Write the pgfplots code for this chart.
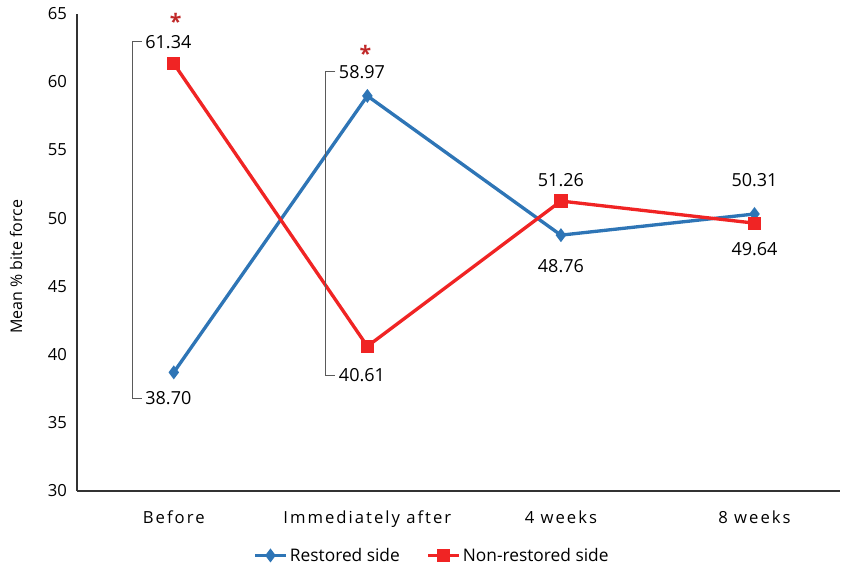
\documentclass[border=0pt]{standalone}
\usepackage{pgfplots}
\pgfplotsset{compat=1.18}
\usepackage{fontspec}
\setmainfont{Open Sans}
\definecolor{rblue}{RGB}{46,117,182}
\definecolor{nred}{RGB}{240,36,36}
\definecolor{astred}{RGB}{192,40,40}
\definecolor{leader}{RGB}{90,90,90}
\begin{document}
\begin{tikzpicture}[x=0.75pt,y=0.75pt]
\path (-77,-79) rectangle (766,491);
\begin{axis}[
  at={(0,0)}, anchor=south west,
  scale only axis,
  width=572pt, height=358pt,
  xmin=-0.5, xmax=3.44,
  ymin=30, ymax=65,
  ytick={30,35,...,65},
  xtick={0,1,2,3},
  xticklabels={Before,Immediately after,4 weeks,8 weeks},
  xticklabel style={font=\fontsize{12.5}{14}\selectfont\addfontfeatures{LetterSpace=12}, yshift=-11pt},
  yticklabel style={font=\fontsize{12.5}{14}\selectfont, xshift=-4pt},
  /pgf/number format/assume math mode=true,
  /pgf/number format/fixed,
  major tick length=0pt,
  axis x line*=bottom, axis y line*=left,
  axis line style={black!80, line width=0.8pt},
  ylabel={Mean \% bite force},
  every axis y label/.style={at={(axis description cs:-0.08,0.47)}, rotate=90, anchor=center},
  ylabel style={font=\fontsize{12}{14}\selectfont},
  legend style={draw=none, at={(0.466,-0.135)}, anchor=center, legend columns=2,
    font=\fontsize{13}{15}\selectfont, /tikz/every even column/.append style={column sep=18pt},
    /tikz/every odd column/.append style={column sep=0pt}},
  legend image code/.code={\draw[#1] (0cm,0cm) -- (0.8cm,0cm); \draw[#1, only marks] plot coordinates {(0.4cm,0cm)};},
  clip=false,
]
\addplot[rblue, line width=2.5pt, mark=diamond*, mark size=3.2pt, mark options={solid}]
  coordinates {(0,38.70) (1,58.97) (2,48.76) (3,50.31)};
\addlegendentry{Restored side}
\addplot[nred, line width=2.5pt, mark=square*, mark size=3.7pt]
  coordinates {(0,61.34) (1,40.61) (2,51.26) (3,49.64)};
\addlegendentry{Non-restored side}
% leader brackets
\draw[leader, line width=0.6pt] (axis cs:-0.165,62.95) -- (axis cs:-0.215,62.95) -- (axis cs:-0.215,36.82) -- (axis cs:-0.165,36.82);
\draw[leader, line width=0.6pt] (axis cs:0.835,60.74) -- (axis cs:0.785,60.74) -- (axis cs:0.785,38.51) -- (axis cs:0.835,38.51);
\begin{scope}[every node/.style={font=\fontsize{13.5}{15}\selectfont, inner sep=1pt}]
\node[anchor=west] at (axis cs:-0.155,62.95) {61.34};
\node[anchor=west] at (axis cs:-0.155,36.82) {38.70};
\node[anchor=west] at (axis cs:0.845,60.74) {58.97};
\node[anchor=west] at (axis cs:0.845,38.51) {40.61};
\node at (axis cs:2,52.82) {51.26};
\node at (axis cs:2,46.5) {48.76};
\node at (axis cs:3,52.82) {50.31};
\node at (axis cs:3,47.7) {49.64};
\end{scope}
\node[astred, inner sep=0pt, anchor=base, font=\fontsize{16}{16}\selectfont\bfseries] at (axis cs:0.01,63.85) {*};
\node[astred, inner sep=0pt, anchor=base, font=\fontsize{16}{16}\selectfont\bfseries] at (axis cs:0.99,61.5) {*};
\end{axis}
\end{tikzpicture}
\end{document}
